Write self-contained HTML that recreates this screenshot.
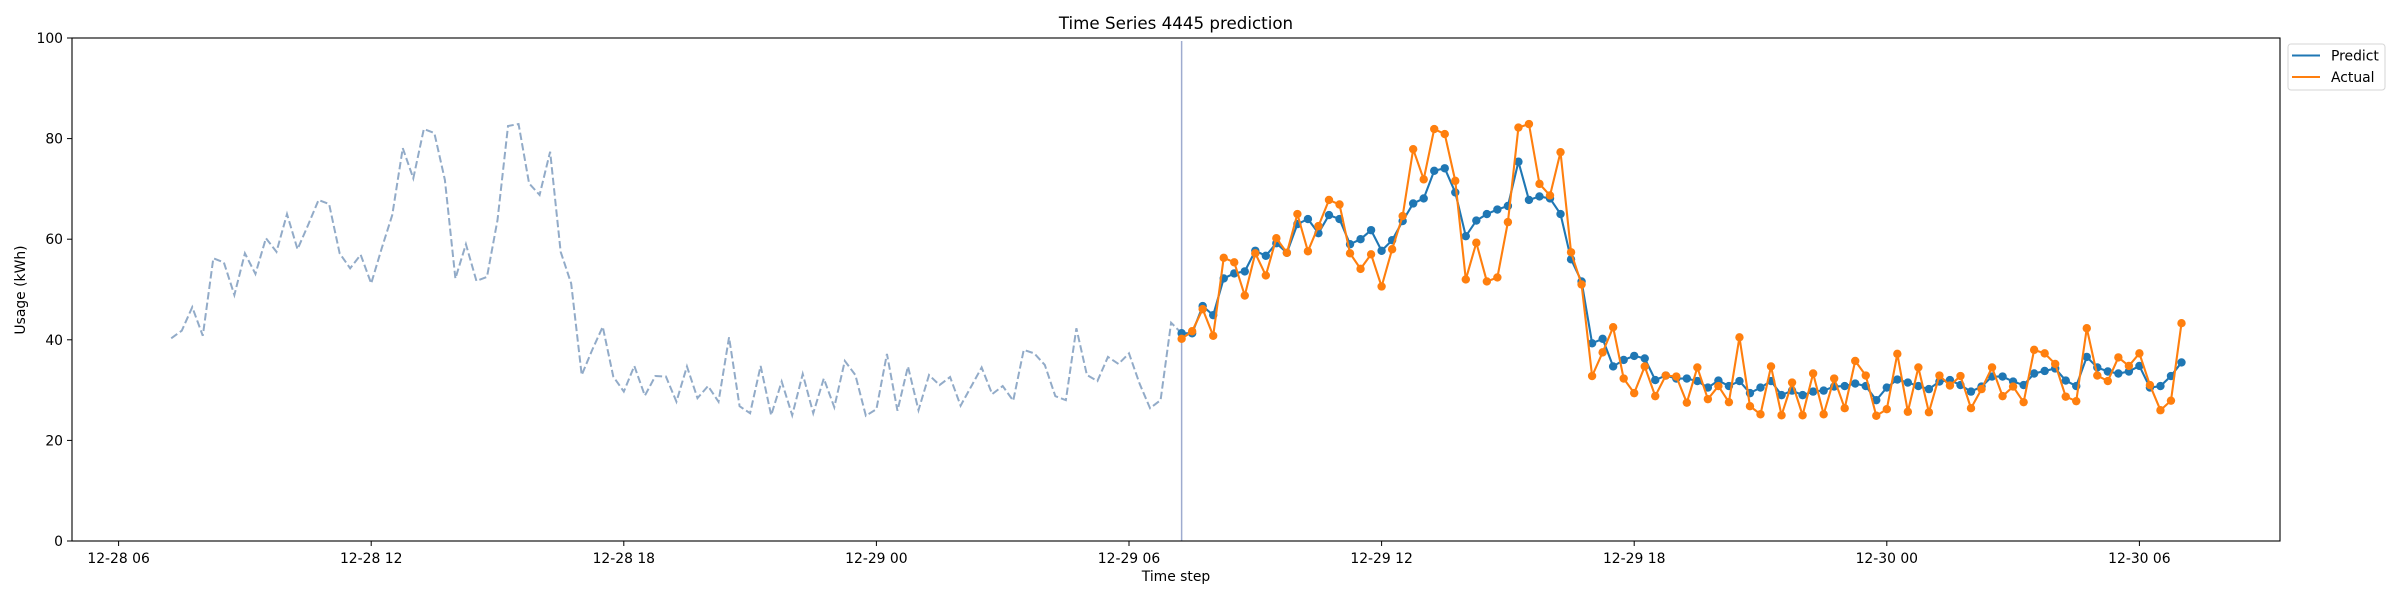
<!DOCTYPE html>
<html><head><meta charset="utf-8"><style>
html,body{margin:0;padding:0;background:#fff;}
svg{display:block;font-family:"DejaVu Sans","Liberation Sans",sans-serif;}
</style></head><body>
<svg id="chart" width="2400" height="600" viewBox="0 0 2400 600" xmlns="http://www.w3.org/2000/svg">
<rect x="0" y="0" width="2400" height="600" fill="#fff"/>
<text x="1176" y="29" text-anchor="middle" font-size="16.7" fill="#000">Time Series 4445 prediction</text>
<g id="grid"></g>
<g id="marks"></g>
<rect x="72" y="38" width="2208" height="503" fill="none" stroke="#000" stroke-width="1.1"/>
<g id="axes"></g>
<text x="1176" y="581" text-anchor="middle" font-size="13.9" fill="#000">Time step</text>
<text transform="translate(25,290) rotate(-90)" text-anchor="middle" font-size="13.9" fill="#000">Usage (kWh)</text>
<g>
<rect x="2288" y="44" width="97" height="46" rx="3" fill="#fff" stroke="#d6d6d6" stroke-width="1"/>
<line x1="2292" y1="55.5" x2="2320" y2="55.5" stroke="#1f77b4" stroke-width="2.1"/>
<text x="2331" y="60.5" font-size="13.9" fill="#000">Predict</text>
<line x1="2292" y1="77" x2="2320" y2="77" stroke="#ff7f0e" stroke-width="2.1"/>
<text x="2331" y="82" font-size="13.9" fill="#000">Actual</text>
</g>
</svg>
<script>
// hours from 12-28 00:00
const historyStartHour = 7.25;
const forecastStartHour = 31.25;
const stepHours = 0.25;
const historyValues = [40.3,41.8,46.5,40.8,56.2,55.4,48.9,57.2,53.1,60.2,57.5,65.0,58.0,62.8,67.8,67.0,57.2,54.2,56.9,51.2,58.2,64.8,78.1,72.1,81.9,81.1,71.8,52.2,59.0,51.7,52.5,63.8,82.5,82.9,71.1,68.8,77.4,57.5,51.2,33.0,38.0,42.6,32.7,29.7,34.8,28.9,32.8,32.7,27.7,34.7,28.4,30.8,27.7,40.5,26.8,25.4,34.8,25.0,31.7,25.0,33.2,25.4,32.3,26.6,35.8,33.0,24.9,26.2,37.2,25.9,34.7,26.0,33.0,31.0,32.6,26.9,30.7,34.5,29.2,30.8,27.9,38.0,37.3,35.0,28.8,28.0,42.3,33.0,31.8,36.6,35.2,37.3,31.3,26.4,28.0,43.4,41.3];
const predictValues = [41.3,41.3,46.7,44.9,52.2,53.2,53.6,57.7,56.7,59.2,57.3,63.0,64.0,61.2,64.8,64.0,59.0,60.0,61.8,57.7,59.8,63.6,67.1,68.1,73.6,74.1,69.3,60.6,63.7,65.0,65.9,66.6,75.4,67.8,68.5,68.1,65.0,56.0,51.6,39.3,40.2,34.7,36.0,36.8,36.3,32.0,32.9,32.3,32.3,31.8,30.5,31.9,30.8,31.8,29.4,30.5,31.8,29.0,29.9,29.0,29.7,29.9,30.7,30.8,31.3,30.8,28.0,30.5,32.1,31.5,30.8,30.2,31.7,32.0,31.0,29.7,30.7,32.7,32.7,31.7,31.0,33.3,33.8,34.3,31.9,30.8,36.6,34.5,33.7,33.3,33.7,34.8,30.5,30.8,32.8,35.5];
const actualValues = [40.2,41.7,46.1,40.8,56.3,55.4,48.8,57.2,52.8,60.2,57.3,65.0,57.6,62.6,67.8,66.9,57.2,54.1,57.0,50.6,58.0,64.6,77.9,71.9,81.9,80.9,71.6,52.0,59.3,51.6,52.4,63.4,82.2,82.9,71.0,68.7,77.3,57.4,51.0,32.8,37.5,42.5,32.3,29.4,34.7,28.8,32.9,32.7,27.5,34.5,28.2,30.8,27.6,40.5,26.8,25.2,34.7,25.0,31.5,25.0,33.3,25.2,32.3,26.4,35.8,32.9,24.9,26.2,37.2,25.7,34.5,25.6,32.9,30.9,32.8,26.4,30.2,34.5,28.8,30.7,27.6,38.0,37.3,35.2,28.7,27.8,42.3,32.9,31.8,36.5,34.8,37.3,31.0,26.0,27.9,43.3];
const yTicks = [0,20,40,60,80,100];
const xTickHours = [6,12,18,24,30,36,42,48,54];
const xTickLabels = ["12-28 06","12-28 12","12-28 18","12-29 00","12-29 06","12-29 12","12-29 18","12-30 00","12-30 06"];

const NS = "http://www.w3.org/2000/svg";
const X0 = 118.6, PXH = 42.1;
function xScale(h){ return X0 + (h - 6) * PXH; }
function yScale(v){ return 541 - v * 5.03; }
function mk(tag, attrs, parent){
  const e = document.createElementNS(NS, tag);
  for (const k in attrs) e.setAttribute(k, attrs[k]);
  parent.appendChild(e); return e;
}
const axes = document.getElementById('axes');
const marks = document.getElementById('marks');

yTicks.forEach(function(v){
  const y = yScale(v);
  const t = mk('line', {x1:67, x2:72, y1:y, y2:y, stroke:'#000', 'stroke-width':1}, axes);
  
  
  const l = mk('text', {x:63, y:y+5, 'text-anchor':'end', 'font-size':13.9, fill:'#000'}, axes);
  l.textContent = v;
  
  
});
xTickHours.forEach(function(h, i){
  const x = xScale(h);
  const t = mk('line', {x1:x, x2:x, y1:541, y2:546, stroke:'#000', 'stroke-width':1}, axes);
  
  
  const l = mk('text', {x:x, y:563, 'text-anchor':'middle', 'font-size':13.9, fill:'#000'}, axes);
  l.textContent = xTickLabels[i];
  
  
});

function pts(start, vals){
  return vals.map(function(v, i){ return xScale(start + i * stepHours).toFixed(2) + ',' + yScale(v).toFixed(2); }).join(' ');
}
const hist = mk('polyline', {points: pts(historyStartHour, historyValues), fill:'none', stroke:'#92abc8', 'stroke-width':2, 'stroke-dasharray':'7.4,3.2'}, marks);



const vx = xScale(forecastStartHour);
const vl = mk('line', {x1:vx, x2:vx, y1:41, y2:541, stroke:'#9eabcf', 'stroke-width':1.5}, marks);



function series(vals, color, name){
  const g = mk('g', {}, marks);
  
  
  const pl = mk('polyline', {points: pts(forecastStartHour, vals), fill:'none', stroke:color, 'stroke-width':2.1}, g);
  
  
  vals.forEach(function(v, i){
    const c = mk('circle', {cx:xScale(forecastStartHour + i * stepHours), cy:yScale(v), r:4.2, fill:color}, g);
    
    
  });
}
series(predictValues, '#1f77b4', 'predict');
series(actualValues, '#ff7f0e', 'actual');
</script>
</body></html>
